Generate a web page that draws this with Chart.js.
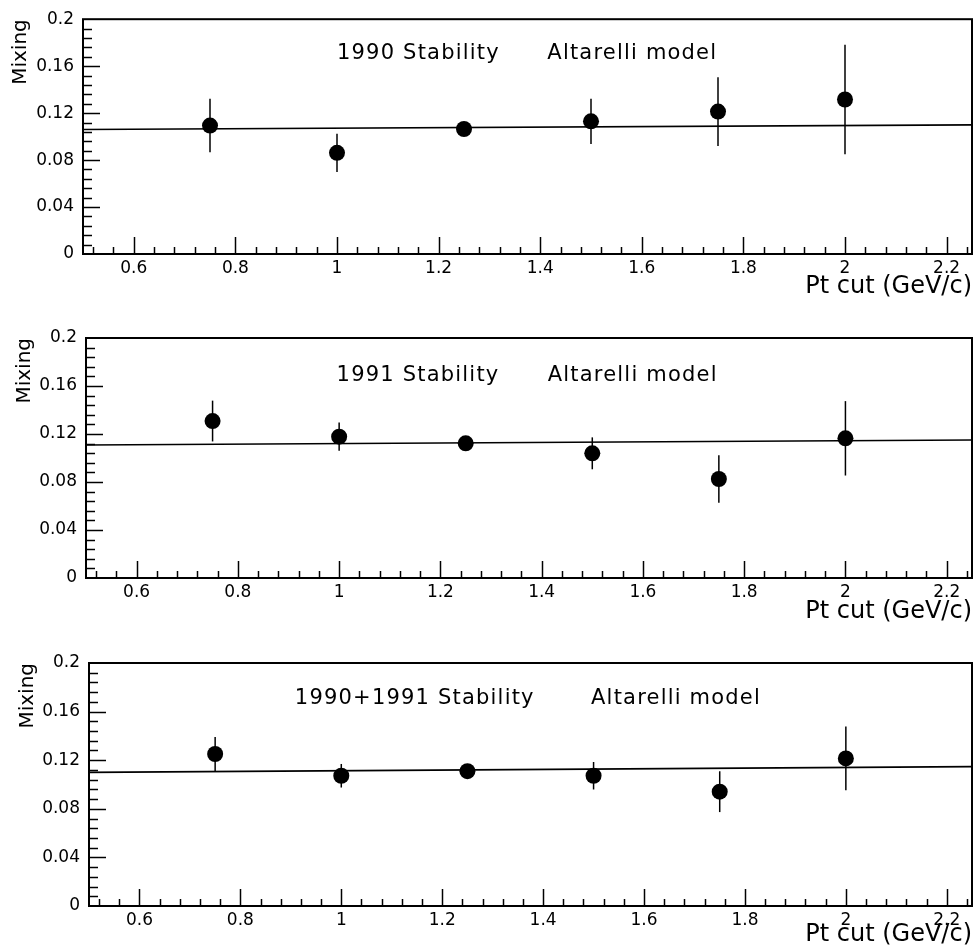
<!DOCTYPE html>
<html>
<head>
<meta charset="utf-8">
<script src="https://cdn.jsdelivr.net/npm/chart.js@4.4.0/dist/chart.umd.min.js"></script>
<style>
  html, body { margin: 0; padding: 0; background: #fff; }
  body { width: 980px; height: 952px; position: relative; overflow: hidden; }
  canvas { position: absolute; left: 0; }
</style>
</head>
<body>
<canvas id="c1" width="980" height="318" style="top:0px"></canvas>
<canvas id="c2" width="980" height="318" style="top:318px"></canvas>
<canvas id="c3" width="980" height="316" style="top:636px"></canvas>
<script>
// ---------- data ----------
const ptCuts = [0.75, 1.0, 1.25, 1.5, 1.75, 2.0];

const mix1990 = [0.1094, 0.0862, 0.1065, 0.1130, 0.1213, 0.1316];
const err1990 = [0.0228, 0.0163, 0.0040, 0.0193, 0.0293, 0.0467];
const fit1990 = [0.1060, 0.1100];

const mix1991 = [0.1308, 0.1178, 0.1122, 0.1039, 0.0825, 0.1164];
const err1991 = [0.0170, 0.0117, 0.0040, 0.0133, 0.0198, 0.0310];
const fit1991 = [0.1108, 0.1150];

const mixComb = [0.1251, 0.1072, 0.1110, 0.1072, 0.0941, 0.1215];
const errComb = [0.0140, 0.0097, 0.0030, 0.0113, 0.0168, 0.0262];
const fitComb = [0.1100, 0.1147];

const fitRange = [0.5, 2.25];

const xTickValues = [0.6, 0.8, 1.0, 1.2, 1.4, 1.6, 1.8, 2.0, 2.2];
const xTickLabels = ['0.6', '0.8', '1', '1.2', '1.4', '1.6', '1.8', '2', '2.2'];
const yTickValues = [0, 0.04, 0.08, 0.12, 0.16, 0.2];
const yTickLabels = ['0', '0.04', '0.08', '0.12', '0.16', '0.2'];

const title1990 = ['1990 Stability', 'Altarelli model'];
const title1991 = ['1991 Stability', 'Altarelli model'];
const titleComb = ['1990+1991 Stability', 'Altarelli model'];

const xAxisTitle = 'Pt cut (GeV/c)';
const yAxisTitle = 'Mixing';

// ---------- layout (page geometry per panel) ----------
const panels = [
  { id: 'c1', T: 0,   H: 318, L: 83, R: 972, t: 15,  b: 254, xTitleY: 287, yTitlePad: 9,
    y: mix1990, err: err1990, fit: fit1990, title: title1990, titlePos: [[1.0, 0.1657], [1.414, 0.1657]] },
  { id: 'c2', T: 318, H: 318, L: 86, R: 975, t: 338, b: 578, xTitleY: 612, yTitlePad: 13,
    y: mix1991, err: err1991, fit: fit1991, title: title1991, titlePos: [[0.995, 0.1644], [1.412, 0.1644]] },
  { id: 'c3', T: 636, H: 316, L: 89, R: 976, t: 663, b: 906, xTitleY: 935, yTitlePad: 16,
    y: mixComb, err: errComb, fit: fitComb, title: titleComb, titlePos: [[0.908, 0.1663], [1.495, 0.1663]] }
];

const FONT = "'DejaVu Sans', 'Liberation Sans', sans-serif";

function makeDecor(p) {
  return {
    id: 'decor_' + p.id,
    beforeDatasetsDraw(chart) {
      const { ctx, scales: { x, y } } = chart;
      ctx.save();
      ctx.strokeStyle = '#000';
      ctx.lineWidth = 1.5;
      ptCuts.forEach((xv, i) => {
        const px = x.getPixelForValue(xv);
        ctx.beginPath();
        ctx.moveTo(px, y.getPixelForValue(p.y[i] - p.err[i]));
        ctx.lineTo(px, y.getPixelForValue(p.y[i] + p.err[i]));
        ctx.stroke();
      });
      ctx.restore();
    },
    afterDraw(chart) {
      const { ctx, chartArea: a, scales: { x, y } } = chart;
      ctx.save();
      ctx.strokeStyle = '#000';
      // frame
      ctx.lineWidth = 2;
      ctx.strokeRect(a.left, a.top, a.right - a.left, a.bottom - a.top);
      // inward ticks, x axis
      ctx.lineWidth = 1.5;
      for (let k = 13; k * 0.04 <= x.max + 1e-9; k++) {
        const v = k * 0.04;
        const major = (k % 5 === 0);
        const px = Math.round(x.getPixelForValue(v)) + 0.5;
        ctx.beginPath();
        ctx.moveTo(px, a.bottom);
        ctx.lineTo(px, a.bottom - (major ? 17 : 7));
        ctx.stroke();
      }
      // inward ticks, y axis
      for (let k = 1; k < 25; k++) {
        const v = k * 0.008;
        const major = (k % 5 === 0);
        const py = Math.round(y.getPixelForValue(v)) + 0.5;
        ctx.beginPath();
        ctx.moveTo(a.left, py);
        ctx.lineTo(a.left + (major ? 17 : 9), py);
        ctx.stroke();
      }
      // in-plot title texts
      ctx.fillStyle = '#000';
      ctx.font = '21px ' + FONT;
      try { ctx.letterSpacing = '1.2px'; } catch (e) {}
      ctx.textAlign = 'left';
      ctx.textBaseline = 'alphabetic';
      p.title.forEach((txt, i) => {
        const [vx, vy] = p.titlePos[i];
        ctx.fillText(txt, x.getPixelForValue(vx), y.getPixelForValue(vy));
      });
      ctx.restore();
    }
  };
}

panels.forEach(p => {
  const canvas = document.getElementById(p.id);
  const xHeight = p.T + p.H - p.b;
  const xTitleLH = 24 * 1.2;
  const xTitlePadBottom = (p.T + p.H) - p.xTitleY - xTitleLH / 2;
  new Chart(canvas, {
    type: 'scatter',
    data: {
      datasets: [
        {
          data: ptCuts.map((xv, i) => ({ x: xv, y: p.y[i] })),
          pointRadius: 8,
          pointHoverRadius: 8,
          pointBackgroundColor: '#000',
          pointBorderColor: '#000',
          pointBorderWidth: 0,
          showLine: false
        },
        {
          data: fitRange.map((xv, i) => ({ x: xv, y: p.fit[i] })),
          showLine: true,
          borderColor: '#000',
          borderWidth: 1.6,
          pointRadius: 0,
          fill: false
        }
      ]
    },
    options: {
      responsive: false,
      devicePixelRatio: 1,
      animation: false,
      events: [],
      layout: { padding: { left: 0, right: 980 - p.R, top: p.t - p.T, bottom: 0 } },
      plugins: { legend: { display: false }, tooltip: { enabled: false } },
      scales: {
        x: {
          type: 'linear',
          min: 0.5,
          max: 2.25,
          grid: { display: false, drawTicks: false },
          border: { display: false },
          afterBuildTicks(scale) { scale.ticks = xTickValues.map(v => ({ value: v })); },
          afterFit(scale) { scale.height = xHeight; },
          ticks: {
            autoSkip: false,
            maxRotation: 0,
            padding: 4,
            color: '#000',
            font: { family: FONT, size: 17 },
            callback: (v, i) => xTickLabels[i]
          },
          title: {
            display: true,
            text: xAxisTitle,
            align: 'end',
            color: '#000',
            font: { family: FONT, size: 24 },
            padding: { top: 0, bottom: xTitlePadBottom }
          }
        },
        y: {
          type: 'linear',
          min: 0,
          max: 0.2,
          grid: { display: false, drawTicks: false },
          border: { display: false },
          afterBuildTicks(scale) { scale.ticks = yTickValues.map(v => ({ value: v })); },
          afterFit(scale) { scale.width = p.L; },
          ticks: {
            padding: 9,
            color: '#000',
            font: { family: FONT, size: 17 },
            callback: (v, i) => yTickLabels[i]
          },
          title: {
            display: true,
            text: yAxisTitle,
            align: 'end',
            color: '#000',
            font: { family: FONT, size: 20 },
            padding: { top: p.yTitlePad, bottom: 0 }
          }
        }
      }
    },
    plugins: [makeDecor(p)]
  });
});
</script>
</body>
</html>
